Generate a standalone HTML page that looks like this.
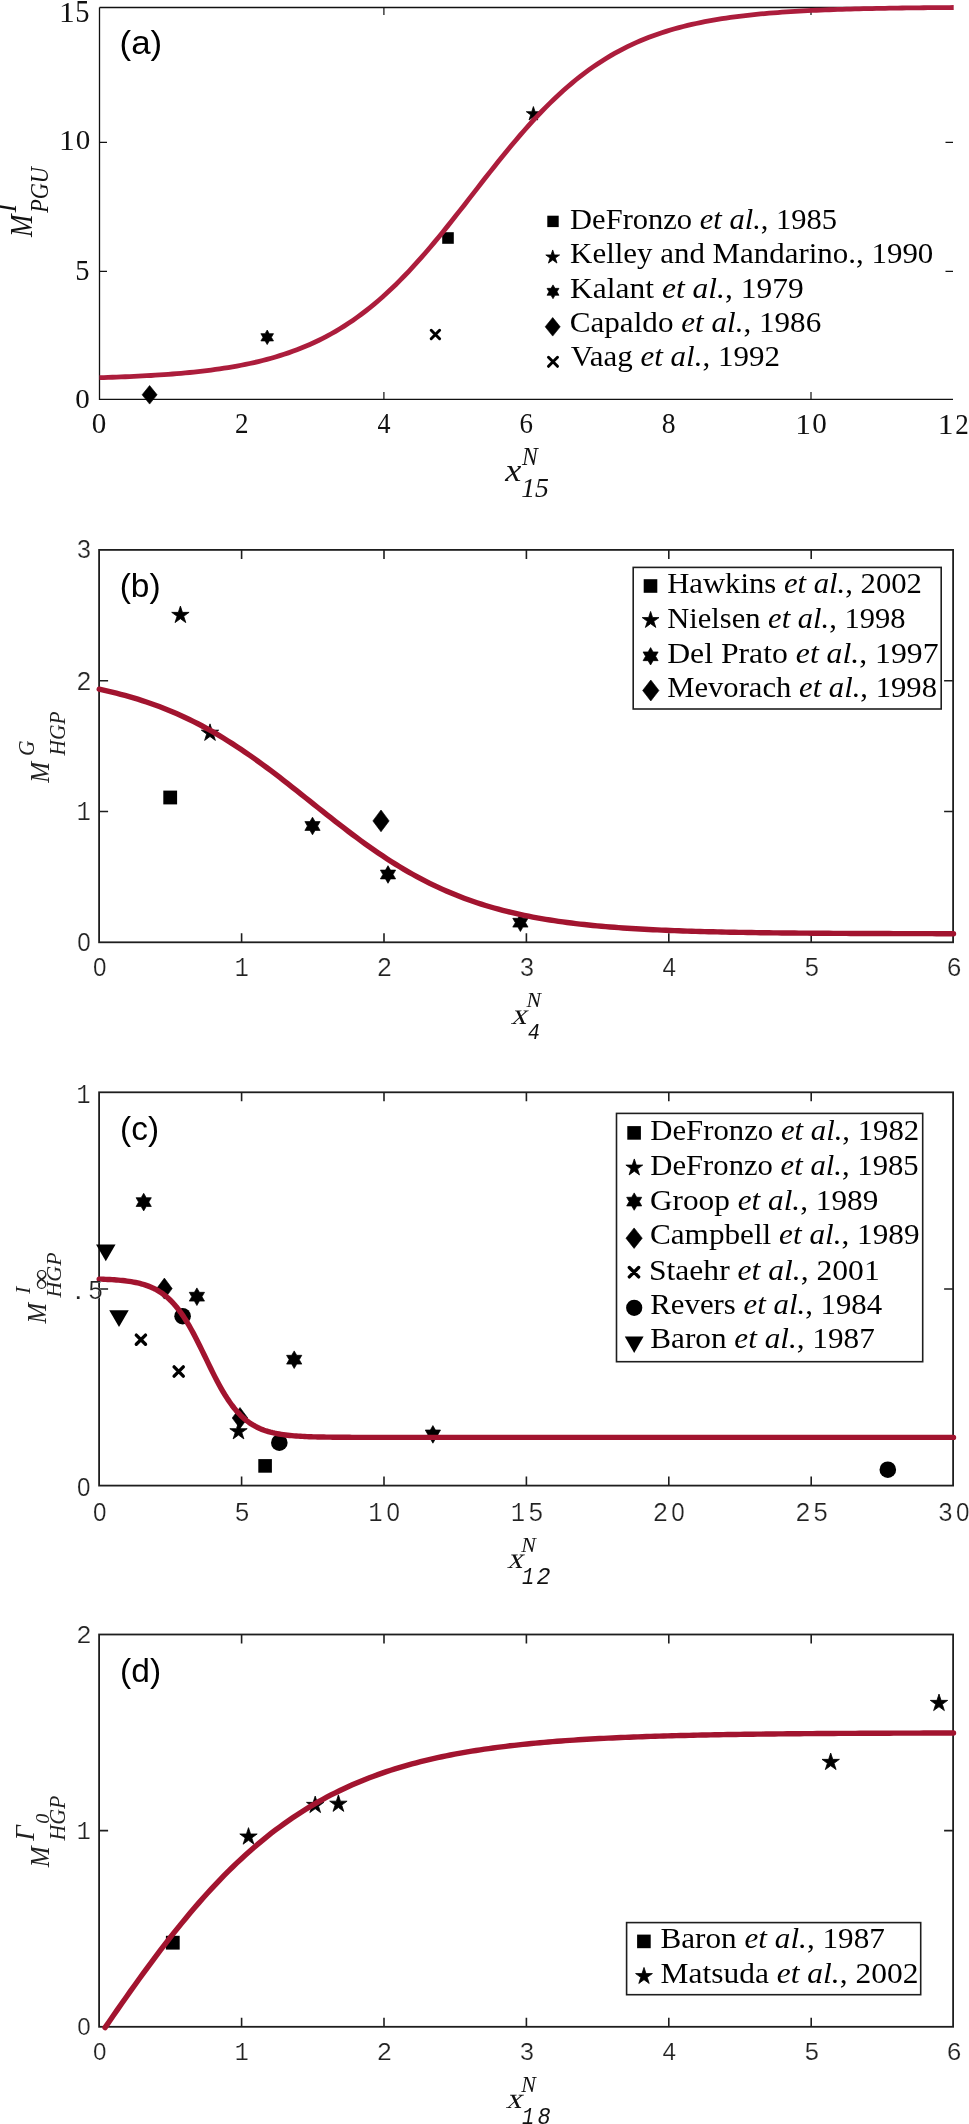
<!DOCTYPE html>
<html><head><meta charset="utf-8"><title>Figure</title>
<style>html,body{margin:0;padding:0;background:#fff;} svg{display:block;} text{white-space:pre;} .t{opacity:0.999;}</style>
</head><body>
<svg width="969" height="2124" viewBox="0 0 969 2124" font-family="'Liberation Serif', serif">
<rect width="969" height="2124" fill="#fff"/>
<path d="M99.5,7.5 H953 M99.5,7.5 V399.4 H953" stroke="#111" stroke-width="1.3" fill="none"/>
<path d="M383.9,399.4 v-7.5 M383.9,7.5 v7.5" stroke="#111" stroke-width="1.2"/>
<path d="M811.0,399.4 v-7.5 M811.0,7.5 v7.5" stroke="#111" stroke-width="1.2"/>
<path d="M99.5,142.4 h7.5 M953,142.4 h-7.5" stroke="#111" stroke-width="1.2"/>
<path d="M99.5,271.4 h7.5 M953,271.4 h-7.5" stroke="#111" stroke-width="1.2"/>
<path d="M149.60,385.50 L157.10,394.80 L149.60,404.10 L142.10,394.80Z" fill="#000" stroke="#000" stroke-width="0.6" stroke-linejoin="round"/>
<path d="M267.20,330.00 L269.31,333.65 L273.52,333.65 L271.41,337.30 L273.52,340.95 L269.31,340.95 L267.20,344.60 L265.09,340.95 L260.88,340.95 L262.99,337.30 L260.88,333.65 L265.09,333.65Z" fill="#000" stroke="#000" stroke-width="0.7" stroke-linejoin="round"/>
<path d="M442.20,232.20 H453.80 V243.80 H442.20Z" fill="#000"/>
<path d="M431.20,330.30 L439.60,338.70 M439.60,330.30 L431.20,338.70" stroke="#000" stroke-width="3.0" stroke-linecap="round" fill="none"/>
<path d="M533.40,106.55 L535.07,111.70 L540.49,111.70 L536.11,114.88 L537.78,120.03 L533.40,116.85 L529.02,120.03 L530.69,114.88 L526.31,111.70 L531.73,111.70Z" fill="#000" stroke="#000" stroke-width="0.8" stroke-linejoin="round"/>
<path d="M99.50,377.66 L103.79,377.53 L108.08,377.39 L112.38,377.25 L116.67,377.09 L120.96,376.93 L125.25,376.76 L129.55,376.57 L133.84,376.38 L138.13,376.17 L142.42,375.95 L146.72,375.72 L151.01,375.48 L155.30,375.22 L159.59,374.94 L163.89,374.65 L168.18,374.34 L172.47,374.01 L176.76,373.67 L181.06,373.30 L185.35,372.91 L189.64,372.50 L193.93,372.06 L198.23,371.60 L202.52,371.12 L206.81,370.60 L211.10,370.05 L215.40,369.47 L219.69,368.86 L223.98,368.22 L228.27,367.53 L232.57,366.81 L236.86,366.05 L241.15,365.24 L245.44,364.39 L249.74,363.50 L254.03,362.55 L258.32,361.55 L262.61,360.49 L266.91,359.38 L271.20,358.20 L275.49,356.97 L279.78,355.66 L284.08,354.29 L288.37,352.85 L292.66,351.33 L296.95,349.73 L301.25,348.05 L305.54,346.29 L309.83,344.44 L314.12,342.50 L318.42,340.46 L322.71,338.33 L327.00,336.10 L331.29,333.76 L335.59,331.32 L339.88,328.76 L344.17,326.10 L348.46,323.32 L352.76,320.42 L357.05,317.40 L361.34,314.27 L365.63,311.00 L369.93,307.62 L374.22,304.11 L378.51,300.47 L382.80,296.71 L387.09,292.82 L391.39,288.81 L395.68,284.68 L399.97,280.42 L404.26,276.04 L408.56,271.55 L412.85,266.94 L417.14,262.23 L421.43,257.41 L425.73,252.49 L430.02,247.48 L434.31,242.38 L438.60,237.20 L442.90,231.95 L447.19,226.63 L451.48,221.26 L455.77,215.84 L460.07,210.38 L464.36,204.90 L468.65,199.39 L472.94,193.87 L477.24,188.35 L481.53,182.84 L485.82,177.35 L490.11,171.88 L494.41,166.46 L498.70,161.07 L502.99,155.75 L507.28,150.49 L511.58,145.30 L515.87,140.18 L520.16,135.16 L524.45,130.22 L528.75,125.39 L533.04,120.65 L537.33,116.03 L541.62,111.52 L545.92,107.12 L550.21,102.84 L554.50,98.68 L558.79,94.65 L563.09,90.74 L567.38,86.96 L571.67,83.30 L575.96,79.77 L580.26,76.36 L584.55,73.08 L588.84,69.92 L593.13,66.89 L597.43,63.97 L601.72,61.17 L606.01,58.48 L610.30,55.91 L614.60,53.45 L618.89,51.10 L623.18,48.84 L627.47,46.69 L631.77,44.64 L636.06,42.69 L640.35,40.82 L644.64,39.04 L648.94,37.35 L653.23,35.74 L657.52,34.21 L661.81,32.75 L666.11,31.37 L670.40,30.05 L674.69,28.81 L678.98,27.62 L683.27,26.50 L687.57,25.43 L691.86,24.42 L696.15,23.47 L700.44,22.56 L704.74,21.70 L709.03,20.89 L713.32,20.12 L717.61,19.39 L721.91,18.70 L726.20,18.05 L730.49,17.43 L734.78,16.85 L739.08,16.30 L743.37,15.78 L747.66,15.28 L751.95,14.82 L756.25,14.38 L760.54,13.96 L764.83,13.57 L769.12,13.20 L773.42,12.85 L777.71,12.52 L782.00,12.21 L786.29,11.91 L790.59,11.63 L794.88,11.37 L799.17,11.12 L803.46,10.89 L807.76,10.67 L812.05,10.46 L816.34,10.26 L820.63,10.08 L824.93,9.90 L829.22,9.74 L833.51,9.58 L837.80,9.44 L842.10,9.30 L846.39,9.17 L850.68,9.05 L854.97,8.93 L859.27,8.82 L863.56,8.72 L867.85,8.62 L872.14,8.53 L876.44,8.44 L880.73,8.36 L885.02,8.28 L889.31,8.21 L893.61,8.14 L897.90,8.08 L902.19,8.02 L906.48,7.96 L910.78,7.90 L915.07,7.85 L919.36,7.81 L923.65,7.76 L927.95,7.72 L932.24,7.68 L936.53,7.64 L940.82,7.60 L945.12,7.57 L949.41,7.54 L953.70,7.51" stroke="#AC1D3C" stroke-width="4.8" fill="none" stroke-linejoin="round"/>
<rect x="99.1" y="549.9" width="854.0" height="392.4" stroke="#1e1e1e" stroke-width="1.8" fill="none"/>
<path d="M241.60,942.3 v-9.0 M241.60,549.9 v9.0 M384.00,942.3 v-9.0 M384.00,549.9 v9.0 M526.40,942.3 v-9.0 M526.40,549.9 v9.0 M668.80,942.3 v-9.0 M668.80,549.9 v9.0 M811.20,942.3 v-9.0 M811.20,549.9 v9.0 M99.1,811.50 h9.0 M953.1,811.50 h-9.0 M99.1,680.70 h9.0 M953.1,680.70 h-9.0 " stroke="#1e1e1e" stroke-width="1.6" fill="none"/>
<rect x="99.1" y="1092.3" width="854.0" height="393.29999999999995" stroke="#1e1e1e" stroke-width="1.8" fill="none"/>
<path d="M241.60,1485.6 v-9.0 M241.60,1092.3 v9.0 M384.00,1485.6 v-9.0 M384.00,1092.3 v9.0 M526.40,1485.6 v-9.0 M526.40,1092.3 v9.0 M668.80,1485.6 v-9.0 M668.80,1092.3 v9.0 M811.20,1485.6 v-9.0 M811.20,1092.3 v9.0 M99.1,1288.95 h9.0 M953.1,1288.95 h-9.0 " stroke="#1e1e1e" stroke-width="1.6" fill="none"/>
<rect x="99.1" y="1634.5" width="854.0" height="392.29999999999995" stroke="#1e1e1e" stroke-width="1.8" fill="none"/>
<path d="M241.60,2026.8 v-9.0 M241.60,1634.5 v9.0 M384.00,2026.8 v-9.0 M384.00,1634.5 v9.0 M526.40,2026.8 v-9.0 M526.40,1634.5 v9.0 M668.80,2026.8 v-9.0 M668.80,1634.5 v9.0 M811.20,2026.8 v-9.0 M811.20,1634.5 v9.0 M99.1,1830.60 h9.0 M953.1,1830.60 h-9.0 " stroke="#1e1e1e" stroke-width="1.6" fill="none"/>
<rect x="633.2" y="567.4" width="308" height="141.6" fill="#fff" stroke="#1e1e1e" stroke-width="1.6"/>
<rect x="616.5" y="1113.4" width="306.2" height="248.3" fill="#fff" stroke="#1e1e1e" stroke-width="1.6"/>
<rect x="626.6" y="1922.6" width="294.1" height="72.1" fill="#fff" stroke="#1e1e1e" stroke-width="1.6"/>
<path d="M163.30,790.60 H177.10 V804.40 H163.30Z" fill="#000"/>
<path d="M180.40,606.05 L182.45,612.37 L189.10,612.37 L183.72,616.28 L185.78,622.60 L180.40,618.69 L175.02,622.60 L177.08,616.28 L171.70,612.37 L178.35,612.37Z" fill="#000" stroke="#000" stroke-width="0.8" stroke-linejoin="round"/>
<path d="M210.00,723.85 L212.05,730.17 L218.70,730.17 L213.32,734.08 L215.38,740.40 L210.00,736.49 L204.62,740.40 L206.68,734.08 L201.30,730.17 L207.95,730.17Z" fill="#000" stroke="#000" stroke-width="0.8" stroke-linejoin="round"/>
<path d="M312.50,817.20 L315.04,821.60 L320.12,821.60 L317.58,826.00 L320.12,830.40 L315.04,830.40 L312.50,834.80 L309.96,830.40 L304.88,830.40 L307.42,826.00 L304.88,821.60 L309.96,821.60Z" fill="#000" stroke="#000" stroke-width="0.7" stroke-linejoin="round"/>
<path d="M381.00,810.00 L389.15,820.90 L381.00,831.80 L372.85,820.90Z" fill="#000" stroke="#000" stroke-width="0.6" stroke-linejoin="round"/>
<path d="M388.00,865.70 L390.54,870.10 L395.62,870.10 L393.08,874.50 L395.62,878.90 L390.54,878.90 L388.00,883.30 L385.46,878.90 L380.38,878.90 L382.92,874.50 L380.38,870.10 L385.46,870.10Z" fill="#000" stroke="#000" stroke-width="0.7" stroke-linejoin="round"/>
<path d="M520.40,913.90 L522.94,918.30 L528.02,918.30 L525.48,922.70 L528.02,927.10 L522.94,927.10 L520.40,931.50 L517.86,927.10 L512.78,927.10 L515.32,922.70 L512.78,918.30 L517.86,918.30Z" fill="#000" stroke="#000" stroke-width="0.7" stroke-linejoin="round"/>
<path d="M96.05,1244.60 H115.55 L105.80,1261.20Z" fill="#000"/>
<path d="M109.25,1310.30 H128.75 L119.00,1326.90Z" fill="#000"/>
<path d="M136.30,1335.10 L145.50,1344.30 M145.50,1335.10 L136.30,1344.30" stroke="#000" stroke-width="3.4" stroke-linecap="round" fill="none"/>
<path d="M174.10,1366.90 L183.30,1376.10 M183.30,1366.90 L174.10,1376.10" stroke="#000" stroke-width="3.4" stroke-linecap="round" fill="none"/>
<path d="M143.70,1193.30 L146.24,1197.70 L151.32,1197.70 L148.78,1202.10 L151.32,1206.50 L146.24,1206.50 L143.70,1210.90 L141.16,1206.50 L136.08,1206.50 L138.62,1202.10 L136.08,1197.70 L141.16,1197.70Z" fill="#000" stroke="#000" stroke-width="0.7" stroke-linejoin="round"/>
<path d="M164.40,1278.10 L172.20,1288.60 L164.40,1299.10 L156.60,1288.60Z" fill="#000" stroke="#000" stroke-width="0.6" stroke-linejoin="round"/>
<path d="M196.90,1287.90 L199.44,1292.30 L204.52,1292.30 L201.98,1296.70 L204.52,1301.10 L199.44,1301.10 L196.90,1305.50 L194.36,1301.10 L189.28,1301.10 L191.82,1296.70 L189.28,1292.30 L194.36,1292.30Z" fill="#000" stroke="#000" stroke-width="0.7" stroke-linejoin="round"/>
<circle cx="182.6" cy="1316.2" r="8.3" fill="#000"/>
<path d="M240.00,1407.50 L247.80,1418.00 L240.00,1428.50 L232.20,1418.00Z" fill="#000" stroke="#000" stroke-width="0.6" stroke-linejoin="round"/>
<path d="M238.50,1422.35 L240.55,1428.67 L247.20,1428.67 L241.82,1432.58 L243.88,1438.90 L238.50,1434.99 L233.12,1438.90 L235.18,1432.58 L229.80,1428.67 L236.45,1428.67Z" fill="#000" stroke="#000" stroke-width="0.8" stroke-linejoin="round"/>
<circle cx="279.3" cy="1442.7" r="8.3" fill="#000"/>
<path d="M258.30,1459.10 H271.90 V1472.70 H258.30Z" fill="#000"/>
<path d="M294.20,1350.90 L296.74,1355.30 L301.82,1355.30 L299.28,1359.70 L301.82,1364.10 L296.74,1364.10 L294.20,1368.50 L291.66,1364.10 L286.58,1364.10 L289.12,1359.70 L286.58,1355.30 L291.66,1355.30Z" fill="#000" stroke="#000" stroke-width="0.7" stroke-linejoin="round"/>
<path d="M432.90,1425.60 L435.44,1430.00 L440.52,1430.00 L437.98,1434.40 L440.52,1438.80 L435.44,1438.80 L432.90,1443.20 L430.36,1438.80 L425.28,1438.80 L427.82,1434.40 L425.28,1430.00 L430.36,1430.00Z" fill="#000" stroke="#000" stroke-width="0.7" stroke-linejoin="round"/>
<circle cx="887.8" cy="1469.7" r="8.3" fill="#000"/>
<path d="M165.90,1935.80 H179.70 V1949.60 H165.90Z" fill="#000"/>
<path d="M248.50,1827.65 L250.55,1833.97 L257.20,1833.97 L251.82,1837.88 L253.88,1844.20 L248.50,1840.29 L243.12,1844.20 L245.18,1837.88 L239.80,1833.97 L246.45,1833.97Z" fill="#000" stroke="#000" stroke-width="0.8" stroke-linejoin="round"/>
<path d="M315.20,1796.05 L317.25,1802.37 L323.90,1802.37 L318.52,1806.28 L320.58,1812.60 L315.20,1808.69 L309.82,1812.60 L311.88,1806.28 L306.50,1802.37 L313.15,1802.37Z" fill="#000" stroke="#000" stroke-width="0.8" stroke-linejoin="round"/>
<path d="M338.40,1794.85 L340.45,1801.17 L347.10,1801.17 L341.72,1805.08 L343.78,1811.40 L338.40,1807.49 L333.02,1811.40 L335.08,1805.08 L329.70,1801.17 L336.35,1801.17Z" fill="#000" stroke="#000" stroke-width="0.8" stroke-linejoin="round"/>
<path d="M830.70,1753.05 L832.75,1759.37 L839.40,1759.37 L834.02,1763.28 L836.08,1769.60 L830.70,1765.69 L825.32,1769.60 L827.38,1763.28 L822.00,1759.37 L828.65,1759.37Z" fill="#000" stroke="#000" stroke-width="0.8" stroke-linejoin="round"/>
<path d="M939.00,1694.05 L941.05,1700.37 L947.70,1700.37 L942.32,1704.28 L944.38,1710.60 L939.00,1706.69 L933.62,1710.60 L935.68,1704.28 L930.30,1700.37 L936.95,1700.37Z" fill="#000" stroke="#000" stroke-width="0.8" stroke-linejoin="round"/>
<path d="M99.20,689.23 L103.49,690.15 L107.79,691.12 L112.08,692.13 L116.37,693.19 L120.66,694.29 L124.96,695.44 L129.25,696.64 L133.54,697.90 L137.84,699.20 L142.13,700.56 L146.42,701.98 L150.72,703.45 L155.01,704.98 L159.30,706.57 L163.59,708.22 L167.89,709.93 L172.18,711.71 L176.47,713.55 L180.77,715.46 L185.06,717.43 L189.35,719.48 L193.65,721.59 L197.94,723.76 L202.23,726.01 L206.52,728.32 L210.82,730.71 L215.11,733.16 L219.40,735.68 L223.70,738.26 L227.99,740.92 L232.28,743.63 L236.57,746.41 L240.87,749.26 L245.16,752.16 L249.45,755.12 L253.75,758.14 L258.04,761.20 L262.33,764.32 L266.63,767.49 L270.92,770.70 L275.21,773.95 L279.50,777.23 L283.80,780.55 L288.09,783.90 L292.38,787.27 L296.68,790.66 L300.97,794.07 L305.26,797.49 L309.56,800.91 L313.85,804.34 L318.14,807.76 L322.43,811.17 L326.73,814.58 L331.02,817.96 L335.31,821.33 L339.61,824.67 L343.90,827.98 L348.19,831.25 L352.48,834.49 L356.78,837.69 L361.07,840.84 L365.36,843.95 L369.66,847.00 L373.95,850.00 L378.24,852.95 L382.54,855.84 L386.83,858.66 L391.12,861.42 L395.41,864.12 L399.71,866.76 L404.00,869.32 L408.29,871.82 L412.59,874.26 L416.88,876.62 L421.17,878.92 L425.47,881.14 L429.76,883.30 L434.05,885.39 L438.34,887.41 L442.64,889.37 L446.93,891.26 L451.22,893.08 L455.52,894.84 L459.81,896.54 L464.10,898.17 L468.39,899.75 L472.69,901.26 L476.98,902.72 L481.27,904.12 L485.57,905.46 L489.86,906.75 L494.15,907.99 L498.45,909.17 L502.74,910.31 L507.03,911.40 L511.32,912.45 L515.62,913.45 L519.91,914.40 L524.20,915.32 L528.50,916.19 L532.79,917.03 L537.08,917.83 L541.38,918.59 L545.67,919.32 L549.96,920.02 L554.25,920.68 L558.55,921.32 L562.84,921.92 L567.13,922.50 L571.43,923.05 L575.72,923.57 L580.01,924.07 L584.31,924.55 L588.60,925.00 L592.89,925.44 L597.18,925.85 L601.48,926.24 L605.77,926.61 L610.06,926.97 L614.36,927.31 L618.65,927.63 L622.94,927.94 L627.23,928.23 L631.53,928.51 L635.82,928.77 L640.11,929.02 L644.41,929.26 L648.70,929.49 L652.99,929.70 L657.29,929.91 L661.58,930.10 L665.87,930.29 L670.16,930.47 L674.46,930.63 L678.75,930.79 L683.04,930.94 L687.34,931.09 L691.63,931.22 L695.92,931.35 L700.22,931.48 L704.51,931.60 L708.80,931.71 L713.09,931.81 L717.39,931.91 L721.68,932.01 L725.97,932.10 L730.27,932.19 L734.56,932.27 L738.85,932.35 L743.14,932.42 L747.44,932.49 L751.73,932.56 L756.02,932.62 L760.32,932.68 L764.61,932.74 L768.90,932.79 L773.20,932.84 L777.49,932.89 L781.78,932.94 L786.07,932.98 L790.37,933.03 L794.66,933.07 L798.95,933.10 L803.25,933.14 L807.54,933.17 L811.83,933.21 L816.13,933.24 L820.42,933.27 L824.71,933.29 L829.00,933.32 L833.30,933.34 L837.59,933.37 L841.88,933.39 L846.18,933.41 L850.47,933.43 L854.76,933.45 L859.05,933.47 L863.35,933.49 L867.64,933.50 L871.93,933.52 L876.23,933.53 L880.52,933.55 L884.81,933.56 L889.11,933.57 L893.40,933.59 L897.69,933.60 L901.98,933.61 L906.28,933.62 L910.57,933.63 L914.86,933.64 L919.16,933.65 L923.45,933.66 L927.74,933.66 L932.04,933.67 L936.33,933.68 L940.62,933.69 L944.91,933.69 L949.21,933.70 L953.50,933.70" stroke="#A2142F" stroke-width="5.4" fill="none" stroke-linecap="round" stroke-linejoin="round"/>
<path d="M99.20,1279.09 L101.34,1279.16 L103.48,1279.24 L105.62,1279.33 L107.76,1279.43 L109.91,1279.54 L112.05,1279.67 L114.19,1279.81 L116.33,1279.97 L118.47,1280.14 L120.61,1280.34 L122.75,1280.55 L124.89,1280.79 L127.03,1281.06 L129.18,1281.36 L131.32,1281.70 L133.46,1282.07 L135.60,1282.49 L137.74,1282.95 L139.88,1283.46 L142.02,1284.03 L144.16,1284.66 L146.30,1285.36 L148.45,1286.13 L150.59,1286.99 L152.73,1287.93 L154.87,1288.98 L157.01,1290.13 L159.15,1291.39 L161.29,1292.78 L163.43,1294.30 L165.57,1295.97 L167.72,1297.78 L169.86,1299.76 L172.00,1301.90 L174.14,1304.22 L176.28,1306.72 L178.42,1309.41 L180.56,1312.29 L182.70,1315.35 L184.84,1318.61 L186.99,1322.05 L189.13,1325.67 L191.27,1329.46 L193.41,1333.40 L195.55,1337.48 L197.69,1341.68 L199.83,1345.98 L201.97,1350.34 L204.11,1354.76 L206.26,1359.19 L208.40,1363.62 L210.54,1368.01 L212.68,1372.34 L214.82,1376.59 L216.96,1380.72 L219.10,1384.73 L221.24,1388.58 L223.38,1392.28 L225.53,1395.80 L227.67,1399.13 L229.81,1402.28 L231.95,1405.24 L234.09,1408.01 L236.23,1410.60 L238.37,1412.99 L240.51,1415.21 L242.65,1417.26 L244.79,1419.14 L246.94,1420.87 L249.08,1422.45 L251.22,1423.90 L253.36,1425.22 L255.50,1426.42 L257.64,1427.50 L259.78,1428.49 L261.92,1429.39 L264.06,1430.19 L266.21,1430.93 L268.35,1431.58 L270.49,1432.18 L272.63,1432.72 L274.77,1433.20 L276.91,1433.63 L279.05,1434.02 L281.19,1434.37 L283.33,1434.69 L285.48,1434.97 L287.62,1435.22 L289.76,1435.45 L291.90,1435.65 L294.04,1435.84 L296.18,1436.00 L298.32,1436.15 L300.46,1436.28 L302.60,1436.40 L304.75,1436.50 L306.89,1436.60 L309.03,1436.68 L311.17,1436.76 L313.31,1436.83 L315.45,1436.89 L317.59,1436.94 L319.73,1436.99 L321.87,1437.03 L324.02,1437.07 L326.16,1437.11 L328.30,1437.14 L330.44,1437.17 L332.58,1437.19 L334.72,1437.21 L336.86,1437.23 L339.00,1437.25 L341.14,1437.27 L343.29,1437.28 L345.43,1437.30 L347.57,1437.31 L349.71,1437.32 L351.85,1437.33 L353.99,1437.33 L356.13,1437.34 L358.27,1437.35 L360.41,1437.35 L362.56,1437.36 L364.70,1437.36 L366.84,1437.37 L368.98,1437.37 L371.12,1437.38 L373.26,1437.38 L375.40,1437.38 L377.54,1437.38 L379.68,1437.39 L381.83,1437.39 L383.97,1437.39 L386.11,1437.39 L388.25,1437.39 L390.39,1437.39 L392.53,1437.39 L394.67,1437.40 L396.81,1437.40 L398.95,1437.40 L401.10,1437.40 L403.24,1437.40 L405.38,1437.40 L407.52,1437.40 L409.66,1437.40 L411.80,1437.40 L413.94,1437.40 L416.08,1437.40 L418.22,1437.40 L420.37,1437.40 L422.51,1437.40 L424.65,1437.40 L426.79,1437.40 L428.93,1437.40 L431.07,1437.40 L433.21,1437.40 L435.35,1437.40 L437.49,1437.40 L439.64,1437.40 L441.78,1437.40 L443.92,1437.40 L446.06,1437.40 L448.20,1437.40 L450.34,1437.40 L452.48,1437.40 L454.62,1437.40 L456.76,1437.40 L458.91,1437.40 L461.05,1437.40 L463.19,1437.40 L465.33,1437.40 L467.47,1437.40 L469.61,1437.40 L471.75,1437.40 L473.89,1437.40 L476.03,1437.40 L478.18,1437.40 L480.32,1437.40 L482.46,1437.40 L484.60,1437.40 L486.74,1437.40 L488.88,1437.40 L491.02,1437.40 L493.16,1437.40 L495.30,1437.40 L497.45,1437.40 L499.59,1437.40 L501.73,1437.40 L503.87,1437.40 L506.01,1437.40 L508.15,1437.40 L510.29,1437.40 L512.43,1437.40 L514.57,1437.40 L516.72,1437.40 L518.86,1437.40 L521.00,1437.40 L523.14,1437.40 L525.28,1437.40 L527.42,1437.40 L529.56,1437.40 L531.70,1437.40 L533.84,1437.40 L535.98,1437.40 L538.13,1437.40 L540.27,1437.40 L542.41,1437.40 L544.55,1437.40 L546.69,1437.40 L548.83,1437.40 L550.97,1437.40 L553.11,1437.40 L555.25,1437.40 L557.40,1437.40 L559.54,1437.40 L561.68,1437.40 L563.82,1437.40 L565.96,1437.40 L568.10,1437.40 L570.24,1437.40 L572.38,1437.40 L574.52,1437.40 L576.67,1437.40 L578.81,1437.40 L580.95,1437.40 L583.09,1437.40 L585.23,1437.40 L587.37,1437.40 L589.51,1437.40 L591.65,1437.40 L593.79,1437.40 L595.94,1437.40 L598.08,1437.40 L600.22,1437.40 L602.36,1437.40 L604.50,1437.40 L606.64,1437.40 L608.78,1437.40 L610.92,1437.40 L613.06,1437.40 L615.21,1437.40 L617.35,1437.40 L619.49,1437.40 L621.63,1437.40 L623.77,1437.40 L625.91,1437.40 L628.05,1437.40 L630.19,1437.40 L632.33,1437.40 L634.48,1437.40 L636.62,1437.40 L638.76,1437.40 L640.90,1437.40 L643.04,1437.40 L645.18,1437.40 L647.32,1437.40 L649.46,1437.40 L651.60,1437.40 L653.75,1437.40 L655.89,1437.40 L658.03,1437.40 L660.17,1437.40 L662.31,1437.40 L664.45,1437.40 L666.59,1437.40 L668.73,1437.40 L670.87,1437.40 L673.02,1437.40 L675.16,1437.40 L677.30,1437.40 L679.44,1437.40 L681.58,1437.40 L683.72,1437.40 L685.86,1437.40 L688.00,1437.40 L690.14,1437.40 L692.29,1437.40 L694.43,1437.40 L696.57,1437.40 L698.71,1437.40 L700.85,1437.40 L702.99,1437.40 L705.13,1437.40 L707.27,1437.40 L709.41,1437.40 L711.56,1437.40 L713.70,1437.40 L715.84,1437.40 L717.98,1437.40 L720.12,1437.40 L722.26,1437.40 L724.40,1437.40 L726.54,1437.40 L728.68,1437.40 L730.83,1437.40 L732.97,1437.40 L735.11,1437.40 L737.25,1437.40 L739.39,1437.40 L741.53,1437.40 L743.67,1437.40 L745.81,1437.40 L747.95,1437.40 L750.10,1437.40 L752.24,1437.40 L754.38,1437.40 L756.52,1437.40 L758.66,1437.40 L760.80,1437.40 L762.94,1437.40 L765.08,1437.40 L767.22,1437.40 L769.37,1437.40 L771.51,1437.40 L773.65,1437.40 L775.79,1437.40 L777.93,1437.40 L780.07,1437.40 L782.21,1437.40 L784.35,1437.40 L786.49,1437.40 L788.64,1437.40 L790.78,1437.40 L792.92,1437.40 L795.06,1437.40 L797.20,1437.40 L799.34,1437.40 L801.48,1437.40 L803.62,1437.40 L805.76,1437.40 L807.91,1437.40 L810.05,1437.40 L812.19,1437.40 L814.33,1437.40 L816.47,1437.40 L818.61,1437.40 L820.75,1437.40 L822.89,1437.40 L825.03,1437.40 L827.17,1437.40 L829.32,1437.40 L831.46,1437.40 L833.60,1437.40 L835.74,1437.40 L837.88,1437.40 L840.02,1437.40 L842.16,1437.40 L844.30,1437.40 L846.44,1437.40 L848.59,1437.40 L850.73,1437.40 L852.87,1437.40 L855.01,1437.40 L857.15,1437.40 L859.29,1437.40 L861.43,1437.40 L863.57,1437.40 L865.71,1437.40 L867.86,1437.40 L870.00,1437.40 L872.14,1437.40 L874.28,1437.40 L876.42,1437.40 L878.56,1437.40 L880.70,1437.40 L882.84,1437.40 L884.98,1437.40 L887.13,1437.40 L889.27,1437.40 L891.41,1437.40 L893.55,1437.40 L895.69,1437.40 L897.83,1437.40 L899.97,1437.40 L902.11,1437.40 L904.25,1437.40 L906.40,1437.40 L908.54,1437.40 L910.68,1437.40 L912.82,1437.40 L914.96,1437.40 L917.10,1437.40 L919.24,1437.40 L921.38,1437.40 L923.52,1437.40 L925.67,1437.40 L927.81,1437.40 L929.95,1437.40 L932.09,1437.40 L934.23,1437.40 L936.37,1437.40 L938.51,1437.40 L940.65,1437.40 L942.79,1437.40 L944.94,1437.40 L947.08,1437.40 L949.22,1437.40 L951.36,1437.40 L953.50,1437.40" stroke="#A2142F" stroke-width="5.4" fill="none" stroke-linecap="round" stroke-linejoin="round"/>
<path d="M105.02,2027.60 L109.28,2021.42 L113.54,2015.26 L117.81,2009.12 L122.07,2003.02 L126.34,1996.95 L130.60,1990.93 L134.86,1984.94 L139.13,1979.01 L143.39,1973.13 L147.65,1967.30 L151.92,1961.53 L156.18,1955.83 L160.45,1950.19 L164.71,1944.62 L168.97,1939.12 L173.24,1933.70 L177.50,1928.36 L181.76,1923.10 L186.03,1917.91 L190.29,1912.82 L194.56,1907.80 L198.82,1902.88 L203.08,1898.04 L207.35,1893.30 L211.61,1888.64 L215.87,1884.08 L220.14,1879.61 L224.40,1875.23 L228.67,1870.95 L232.93,1866.76 L237.19,1862.67 L241.46,1858.66 L245.72,1854.76 L249.98,1850.94 L254.25,1847.22 L258.51,1843.59 L262.78,1840.05 L267.04,1836.60 L271.30,1833.24 L275.57,1829.97 L279.83,1826.79 L284.09,1823.70 L288.36,1820.69 L292.62,1817.76 L296.89,1814.92 L301.15,1812.16 L305.41,1809.47 L309.68,1806.87 L313.94,1804.35 L318.20,1801.89 L322.47,1799.52 L326.73,1797.21 L330.99,1794.98 L335.26,1792.82 L339.52,1790.72 L343.79,1788.69 L348.05,1786.72 L352.31,1784.82 L356.58,1782.98 L360.84,1781.20 L365.10,1779.47 L369.37,1777.81 L373.63,1776.19 L377.90,1774.64 L382.16,1773.13 L386.42,1771.67 L390.69,1770.27 L394.95,1768.91 L399.21,1767.60 L403.48,1766.33 L407.74,1765.11 L412.01,1763.93 L416.27,1762.79 L420.53,1761.68 L424.80,1760.62 L429.06,1759.60 L433.32,1758.61 L437.59,1757.66 L441.85,1756.74 L446.12,1755.85 L450.38,1754.99 L454.64,1754.17 L458.91,1753.37 L463.17,1752.61 L467.43,1751.87 L471.70,1751.15 L475.96,1750.47 L480.23,1749.81 L484.49,1749.17 L488.75,1748.55 L493.02,1747.96 L497.28,1747.39 L501.54,1746.84 L505.81,1746.31 L510.07,1745.80 L514.34,1745.31 L518.60,1744.84 L522.86,1744.39 L527.13,1743.95 L531.39,1743.53 L535.65,1743.12 L539.92,1742.73 L544.18,1742.35 L548.45,1741.99 L552.71,1741.64 L556.97,1741.30 L561.24,1740.98 L565.50,1740.67 L569.76,1740.37 L574.03,1740.08 L578.29,1739.80 L582.56,1739.54 L586.82,1739.28 L591.08,1739.03 L595.35,1738.79 L599.61,1738.56 L603.87,1738.34 L608.14,1738.13 L612.40,1737.93 L616.67,1737.73 L620.93,1737.54 L625.19,1737.36 L629.46,1737.18 L633.72,1737.02 L637.98,1736.85 L642.25,1736.70 L646.51,1736.55 L650.77,1736.40 L655.04,1736.26 L659.30,1736.13 L663.57,1736.00 L667.83,1735.88 L672.09,1735.76 L676.36,1735.65 L680.62,1735.54 L684.88,1735.43 L689.15,1735.33 L693.41,1735.23 L697.68,1735.14 L701.94,1735.05 L706.20,1734.96 L710.47,1734.88 L714.73,1734.79 L718.99,1734.72 L723.26,1734.64 L727.52,1734.57 L731.79,1734.50 L736.05,1734.44 L740.31,1734.37 L744.58,1734.31 L748.84,1734.25 L753.10,1734.20 L757.37,1734.14 L761.63,1734.09 L765.90,1734.04 L770.16,1733.99 L774.42,1733.94 L778.69,1733.90 L782.95,1733.85 L787.21,1733.81 L791.48,1733.77 L795.74,1733.73 L800.01,1733.70 L804.27,1733.66 L808.53,1733.63 L812.80,1733.60 L817.06,1733.56 L821.32,1733.53 L825.59,1733.50 L829.85,1733.48 L834.12,1733.45 L838.38,1733.42 L842.64,1733.40 L846.91,1733.37 L851.17,1733.35 L855.43,1733.33 L859.70,1733.31 L863.96,1733.29 L868.23,1733.27 L872.49,1733.25 L876.75,1733.23 L881.02,1733.21 L885.28,1733.19 L889.54,1733.18 L893.81,1733.16 L898.07,1733.15 L902.34,1733.13 L906.60,1733.12 L910.86,1733.11 L915.13,1733.09 L919.39,1733.08 L923.65,1733.07 L927.92,1733.06 L932.18,1733.05 L936.45,1733.04 L940.71,1733.03 L944.97,1733.02 L949.24,1733.01 L953.50,1733.00" stroke="#A2142F" stroke-width="5.4" fill="none" stroke-linecap="round" stroke-linejoin="round"/>
<path d="M547.30,215.70 H558.70 V227.10 H547.30Z" fill="#000"/>
<path d="M552.70,249.95 L554.33,254.96 L559.60,254.96 L555.33,258.06 L556.96,263.07 L552.70,259.97 L548.44,263.07 L550.07,258.06 L545.80,254.96 L551.07,254.96Z" fill="#000" stroke="#000" stroke-width="0.8" stroke-linejoin="round"/>
<path d="M553.00,284.90 L554.99,288.35 L558.98,288.35 L556.98,291.80 L558.98,295.25 L554.99,295.25 L553.00,298.70 L551.01,295.25 L547.02,295.25 L549.02,291.80 L547.02,288.35 L551.01,288.35Z" fill="#000" stroke="#000" stroke-width="0.7" stroke-linejoin="round"/>
<path d="M552.70,317.50 L560.20,326.80 L552.70,336.10 L545.20,326.80Z" fill="#000" stroke="#000" stroke-width="0.6" stroke-linejoin="round"/>
<path d="M548.50,357.30 L557.50,366.30 M557.50,357.30 L548.50,366.30" stroke="#000" stroke-width="3.0" stroke-linecap="round" fill="none"/>
<path d="M643.70,579.20 H657.30 V592.80 H643.70Z" fill="#000"/>
<path d="M650.60,611.45 L652.59,617.57 L659.02,617.57 L653.81,621.34 L655.80,627.46 L650.60,623.68 L645.40,627.46 L647.39,621.34 L642.18,617.57 L648.61,617.57Z" fill="#000" stroke="#000" stroke-width="0.8" stroke-linejoin="round"/>
<path d="M650.60,647.60 L653.11,651.95 L658.13,651.95 L655.62,656.30 L658.13,660.65 L653.11,660.65 L650.60,665.00 L648.09,660.65 L643.07,660.65 L645.58,656.30 L643.07,651.95 L648.09,651.95Z" fill="#000" stroke="#000" stroke-width="0.7" stroke-linejoin="round"/>
<path d="M650.80,680.00 L658.95,690.50 L650.80,701.00 L642.65,690.50Z" fill="#000" stroke="#000" stroke-width="0.6" stroke-linejoin="round"/>
<path d="M627.30,1126.10 H640.90 V1139.70 H627.30Z" fill="#000"/>
<path d="M634.30,1158.95 L636.29,1165.07 L642.72,1165.07 L637.51,1168.84 L639.50,1174.96 L634.30,1171.18 L629.10,1174.96 L631.09,1168.84 L625.88,1165.07 L632.31,1165.07Z" fill="#000" stroke="#000" stroke-width="0.8" stroke-linejoin="round"/>
<path d="M634.20,1192.90 L636.71,1197.25 L641.73,1197.25 L639.22,1201.60 L641.73,1205.95 L636.71,1205.95 L634.20,1210.30 L631.69,1205.95 L626.67,1205.95 L629.18,1201.60 L626.67,1197.25 L631.69,1197.25Z" fill="#000" stroke="#000" stroke-width="0.7" stroke-linejoin="round"/>
<path d="M634.10,1227.95 L642.25,1238.20 L634.10,1248.45 L625.95,1238.20Z" fill="#000" stroke="#000" stroke-width="0.6" stroke-linejoin="round"/>
<path d="M629.35,1267.55 L638.65,1276.85 M638.65,1267.55 L629.35,1276.85" stroke="#000" stroke-width="3.4" stroke-linecap="round" fill="none"/>
<circle cx="634.2" cy="1307.8" r="8.1" fill="#000"/>
<path d="M624.80,1336.40 H643.60 L634.20,1353.00Z" fill="#000"/>
<path d="M637.10,1934.60 H650.70 V1948.20 H637.10Z" fill="#000"/>
<path d="M644.00,1967.45 L645.99,1973.57 L652.42,1973.57 L647.21,1977.34 L649.20,1983.46 L644.00,1979.68 L638.80,1983.46 L640.79,1977.34 L635.58,1973.57 L642.01,1973.57Z" fill="#000" stroke="#000" stroke-width="0.8" stroke-linejoin="round"/>
<g opacity="0.999">
<text transform="matrix(0.34909 0 0 0.33830 119.51 54.40)" font-family="Liberation Sans" font-style="normal" font-weight="normal" font-size="100" fill="#000" >(a)</text>
<text transform="matrix(0.33545 0 0 0.34043 119.69 597.45)" font-family="Liberation Sans" font-style="normal" font-weight="normal" font-size="100" fill="#000" >(b)</text>
<text transform="matrix(0.33365 0 0 0.33723 120.10 1139.72)" font-family="Liberation Sans" font-style="normal" font-weight="normal" font-size="100" fill="#000" >(c)</text>
<text transform="matrix(0.33545 0 0 0.33830 120.09 1682.00)" font-family="Liberation Sans" font-style="normal" font-weight="normal" font-size="100" fill="#000" >(d)</text>
<text transform="matrix(0.29048 0 0 0.27647 75.24 408.05)" font-family="Liberation Serif" font-style="normal" font-weight="normal" font-size="100" fill="#111" >0</text>
<text transform="matrix(0.28500 0 0 0.29697 75.19 279.50)" font-family="Liberation Serif" font-style="normal" font-weight="normal" font-size="100" fill="#111" >5</text>
<text transform="matrix(0.31429 0 0 0.28636 59.07 149.90)" font-family="Liberation Serif" font-style="normal" font-weight="normal" font-size="100" fill="#111" >1</text>
<text transform="matrix(0.29048 0 0 0.27794 75.64 149.34)" font-family="Liberation Serif" font-style="normal" font-weight="normal" font-size="100" fill="#111" >0</text>
<text transform="matrix(0.31429 0 0 0.29545 59.07 21.90)" font-family="Liberation Serif" font-style="normal" font-weight="normal" font-size="100" fill="#111" >1</text>
<text transform="matrix(0.28500 0 0 0.30758 75.19 21.59)" font-family="Liberation Serif" font-style="normal" font-weight="normal" font-size="100" fill="#111" >5</text>
<text transform="matrix(0.29048 0 0 0.28676 91.74 433.13)" font-family="Liberation Serif" font-style="normal" font-weight="normal" font-size="100" fill="#111" >0</text>
<text transform="matrix(0.27073 0 0 0.29104 235.02 433.41)" font-family="Liberation Serif" font-style="normal" font-weight="normal" font-size="100" fill="#111" >2</text>
<text transform="matrix(0.26087 0 0 0.29545 377.48 433.40)" font-family="Liberation Serif" font-style="normal" font-weight="normal" font-size="100" fill="#111" >4</text>
<text transform="matrix(0.26977 0 0 0.28676 519.42 433.13)" font-family="Liberation Serif" font-style="normal" font-weight="normal" font-size="100" fill="#111" >6</text>
<text transform="matrix(0.27619 0 0 0.28676 661.70 433.13)" font-family="Liberation Serif" font-style="normal" font-weight="normal" font-size="100" fill="#111" >8</text>
<text transform="matrix(0.31429 0 0 0.29697 795.17 433.80)" font-family="Liberation Serif" font-style="normal" font-weight="normal" font-size="100" fill="#111" >1</text>
<text transform="matrix(0.29048 0 0 0.28824 812.24 433.22)" font-family="Liberation Serif" font-style="normal" font-weight="normal" font-size="100" fill="#111" >0</text>
<text transform="matrix(0.31429 0 0 0.29848 937.67 434.00)" font-family="Liberation Serif" font-style="normal" font-weight="normal" font-size="100" fill="#111" >1</text>
<text transform="matrix(0.27073 0 0 0.29403 955.37 433.71)" font-family="Liberation Serif" font-style="normal" font-weight="normal" font-size="100" fill="#111" >2</text>
<text transform="matrix(0.24167 0 0 0.25070 77.23 950.65)" font-family="Liberation Sans" font-style="normal" font-weight="normal" font-size="100" fill="#222222" stroke="#fff" stroke-width="0.9">0</text>
<text transform="matrix(0.23333 0 0 0.26970 76.77 820.30)" font-family="Liberation Mono" font-style="normal" font-weight="normal" font-size="100" fill="#222222" stroke="#fff" stroke-width="0.9">1</text>
<text transform="matrix(0.25870 0 0 0.25429 76.76 689.80)" font-family="Liberation Sans" font-style="normal" font-weight="normal" font-size="100" fill="#222222" stroke="#fff" stroke-width="0.9">2</text>
<text transform="matrix(0.25106 0 0 0.25070 77.10 558.45)" font-family="Liberation Sans" font-style="normal" font-weight="normal" font-size="100" fill="#222222" stroke="#fff" stroke-width="0.9">3</text>
<text transform="matrix(0.24167 0 0 0.25070 92.93 975.75)" font-family="Liberation Sans" font-style="normal" font-weight="normal" font-size="100" fill="#222222" stroke="#fff" stroke-width="0.9">0</text>
<text transform="matrix(0.23333 0 0 0.26970 234.87 976.00)" font-family="Liberation Mono" font-style="normal" font-weight="normal" font-size="100" fill="#222222" stroke="#fff" stroke-width="0.9">1</text>
<text transform="matrix(0.25870 0 0 0.25429 377.26 976.00)" font-family="Liberation Sans" font-style="normal" font-weight="normal" font-size="100" fill="#222222" stroke="#fff" stroke-width="0.9">2</text>
<text transform="matrix(0.25106 0 0 0.25070 520.00 975.75)" font-family="Liberation Sans" font-style="normal" font-weight="normal" font-size="100" fill="#222222" stroke="#fff" stroke-width="0.9">3</text>
<text transform="matrix(0.24314 0 0 0.25429 662.61 976.00)" font-family="Liberation Sans" font-style="normal" font-weight="normal" font-size="100" fill="#222222" stroke="#fff" stroke-width="0.9">4</text>
<text transform="matrix(0.25532 0 0 0.25429 804.68 975.75)" font-family="Liberation Sans" font-style="normal" font-weight="normal" font-size="100" fill="#222222" stroke="#fff" stroke-width="0.9">5</text>
<text transform="matrix(0.25652 0 0 0.25070 946.92 975.75)" font-family="Liberation Sans" font-style="normal" font-weight="normal" font-size="100" fill="#222222" stroke="#fff" stroke-width="0.9">6</text>
<text transform="matrix(0.24167 0 0 0.24930 76.93 1496.35)" font-family="Liberation Sans" font-style="normal" font-weight="normal" font-size="100" fill="#222222" stroke="#fff" stroke-width="0.9">0</text>
<text transform="matrix(0.23333 0 0 0.26818 76.57 1103.00)" font-family="Liberation Mono" font-style="normal" font-weight="normal" font-size="100" fill="#222222" stroke="#fff" stroke-width="0.9">1</text>
<text transform="matrix(0.23333 0 0 0.18667 71.30 1299.40)" font-family="Liberation Mono" font-style="normal" font-weight="normal" font-size="100" fill="#222222" >.</text>
<text transform="matrix(0.25532 0 0 0.25143 88.58 1299.15)" font-family="Liberation Sans" font-style="normal" font-weight="normal" font-size="100" fill="#222222" stroke="#fff" stroke-width="0.9">5</text>
<text transform="matrix(0.24167 0 0 0.25070 92.93 1520.65)" font-family="Liberation Sans" font-style="normal" font-weight="normal" font-size="100" fill="#222222" stroke="#fff" stroke-width="0.9">0</text>
<text transform="matrix(0.25532 0 0 0.25429 235.08 1520.65)" font-family="Liberation Sans" font-style="normal" font-weight="normal" font-size="100" fill="#222222" stroke="#fff" stroke-width="0.9">5</text>
<text transform="matrix(0.23333 0 0 0.26970 368.52 1520.90)" font-family="Liberation Mono" font-style="normal" font-weight="normal" font-size="100" fill="#222222" stroke="#fff" stroke-width="0.9">1</text>
<text transform="matrix(0.24167 0 0 0.25070 386.48 1520.65)" font-family="Liberation Sans" font-style="normal" font-weight="normal" font-size="100" fill="#222222" stroke="#fff" stroke-width="0.9">0</text>
<text transform="matrix(0.23333 0 0 0.26970 510.92 1520.90)" font-family="Liberation Mono" font-style="normal" font-weight="normal" font-size="100" fill="#222222" stroke="#fff" stroke-width="0.9">1</text>
<text transform="matrix(0.25532 0 0 0.25429 528.63 1520.65)" font-family="Liberation Sans" font-style="normal" font-weight="normal" font-size="100" fill="#222222" stroke="#fff" stroke-width="0.9">5</text>
<text transform="matrix(0.25870 0 0 0.25429 653.31 1520.90)" font-family="Liberation Sans" font-style="normal" font-weight="normal" font-size="100" fill="#222222" stroke="#fff" stroke-width="0.9">2</text>
<text transform="matrix(0.24167 0 0 0.25070 671.28 1520.65)" font-family="Liberation Sans" font-style="normal" font-weight="normal" font-size="100" fill="#222222" stroke="#fff" stroke-width="0.9">0</text>
<text transform="matrix(0.25870 0 0 0.25429 795.71 1520.90)" font-family="Liberation Sans" font-style="normal" font-weight="normal" font-size="100" fill="#222222" stroke="#fff" stroke-width="0.9">2</text>
<text transform="matrix(0.25532 0 0 0.25429 813.43 1520.65)" font-family="Liberation Sans" font-style="normal" font-weight="normal" font-size="100" fill="#222222" stroke="#fff" stroke-width="0.9">5</text>
<text transform="matrix(0.25106 0 0 0.25070 938.45 1520.65)" font-family="Liberation Sans" font-style="normal" font-weight="normal" font-size="100" fill="#222222" stroke="#fff" stroke-width="0.9">3</text>
<text transform="matrix(0.24167 0 0 0.25070 956.08 1520.65)" font-family="Liberation Sans" font-style="normal" font-weight="normal" font-size="100" fill="#222222" stroke="#fff" stroke-width="0.9">0</text>
<text transform="matrix(0.24167 0 0 0.24507 77.23 2035.15)" font-family="Liberation Sans" font-style="normal" font-weight="normal" font-size="100" fill="#222222" stroke="#fff" stroke-width="0.9">0</text>
<text transform="matrix(0.23333 0 0 0.26364 76.77 1838.70)" font-family="Liberation Mono" font-style="normal" font-weight="normal" font-size="100" fill="#222222" stroke="#fff" stroke-width="0.9">1</text>
<text transform="matrix(0.25870 0 0 0.24857 76.76 1642.90)" font-family="Liberation Sans" font-style="normal" font-weight="normal" font-size="100" fill="#222222" stroke="#fff" stroke-width="0.9">2</text>
<text transform="matrix(0.24167 0 0 0.23944 92.93 2059.96)" font-family="Liberation Sans" font-style="normal" font-weight="normal" font-size="100" fill="#222222" stroke="#fff" stroke-width="0.9">0</text>
<text transform="matrix(0.23333 0 0 0.25758 234.87 2060.20)" font-family="Liberation Mono" font-style="normal" font-weight="normal" font-size="100" fill="#222222" stroke="#fff" stroke-width="0.9">1</text>
<text transform="matrix(0.25870 0 0 0.24286 377.26 2060.20)" font-family="Liberation Sans" font-style="normal" font-weight="normal" font-size="100" fill="#222222" stroke="#fff" stroke-width="0.9">2</text>
<text transform="matrix(0.25106 0 0 0.23944 520.00 2059.96)" font-family="Liberation Sans" font-style="normal" font-weight="normal" font-size="100" fill="#222222" stroke="#fff" stroke-width="0.9">3</text>
<text transform="matrix(0.24314 0 0 0.24286 662.61 2060.20)" font-family="Liberation Sans" font-style="normal" font-weight="normal" font-size="100" fill="#222222" stroke="#fff" stroke-width="0.9">4</text>
<text transform="matrix(0.25532 0 0 0.24286 804.68 2059.96)" font-family="Liberation Sans" font-style="normal" font-weight="normal" font-size="100" fill="#222222" stroke="#fff" stroke-width="0.9">5</text>
<text transform="matrix(0.25652 0 0 0.23944 946.92 2059.96)" font-family="Liberation Sans" font-style="normal" font-weight="normal" font-size="100" fill="#222222" stroke="#fff" stroke-width="0.9">6</text>
<text transform="matrix(0.36222 0 0 0.32609 505.36 480.80)" font-family="Liberation Serif" font-style="italic" font-weight="normal" font-size="100" fill="#111" >x</text>
<text transform="matrix(0.23611 0 0 0.25455 522.04 464.55)" font-family="Liberation Serif" font-style="italic" font-weight="normal" font-size="100" fill="#111" >N</text>
<text transform="matrix(0.27742 0 0 0.26567 521.19 496.53)" font-family="Liberation Serif" font-style="italic" font-weight="normal" font-size="100" fill="#111" >15</text>
<text transform="matrix(0.31228 0 0 0.29565 510.69 1023.80) skewX(-14)" font-family="Liberation Serif" font-style="normal" font-weight="normal" font-size="100" fill="#111" ><tspan>x</tspan></text>
<text transform="matrix(0.21806 0 0 0.21212 526.52 1007.49)" font-family="Liberation Serif" font-style="italic" font-weight="normal" font-size="100" fill="#111" >N</text>
<text transform="matrix(0.20196 0 0 0.22836 527.79 1039.10)" font-family="Liberation Mono" font-style="italic" font-weight="normal" font-size="100" fill="#111" >4</text>
<text transform="matrix(0.30877 0 0 0.29348 506.89 1568.10) skewX(-14)" font-family="Liberation Serif" font-style="normal" font-weight="normal" font-size="100" fill="#111" ><tspan>x</tspan></text>
<text transform="matrix(0.21944 0 0 0.21970 521.32 1552.48)" font-family="Liberation Serif" font-style="italic" font-weight="normal" font-size="100" fill="#111" >N</text>
<text transform="matrix(0.20208 0 0 0.23939 521.99 1583.70)" font-family="Liberation Mono" font-style="italic" font-weight="normal" font-size="100" fill="#111" >1</text>
<text transform="matrix(0.23273 0 0 0.23582 536.53 1583.70)" font-family="Liberation Mono" font-style="italic" font-weight="normal" font-size="100" fill="#111" >2</text>
<text transform="matrix(0.31404 0 0 0.28913 505.69 2108.10) skewX(-14)" font-family="Liberation Serif" font-style="normal" font-weight="normal" font-size="100" fill="#111" ><tspan>x</tspan></text>
<text transform="matrix(0.21944 0 0 0.22121 521.32 2092.48)" font-family="Liberation Serif" font-style="italic" font-weight="normal" font-size="100" fill="#111" >N</text>
<text transform="matrix(0.20208 0 0 0.23939 521.99 2123.80)" font-family="Liberation Mono" font-style="italic" font-weight="normal" font-size="100" fill="#111" >1</text>
<text transform="matrix(0.21887 0 0 0.23235 537.52 2123.57)" font-family="Liberation Mono" font-style="italic" font-weight="normal" font-size="100" fill="#111" >8</text>
<g transform="rotate(-90)"><text transform="matrix(0.27079 0 0 0.31515 -237.03 31.58)" font-family="Liberation Serif" font-style="italic" font-weight="normal" font-size="100" fill="#111" >M</text></g>
<g transform="rotate(-90)"><text transform="matrix(0.25758 0 0 0.25758 -212.52 15.54)" font-family="Liberation Serif" font-style="italic" font-weight="normal" font-size="100" fill="#111" >I</text></g>
<g transform="rotate(-90)"><text transform="matrix(0.22275 0 0 0.25000 -212.80 47.50)" font-family="Liberation Serif" font-style="italic" font-weight="normal" font-size="100" fill="#111" >PGU</text></g>
<g transform="rotate(-90)"><text transform="matrix(0.25056 0 0 0.26818 -782.65 48.53)" font-family="Liberation Serif" font-style="italic" font-weight="normal" font-size="100" fill="#222222" >M</text></g>
<g transform="rotate(-90)"><text transform="matrix(0.21538 0 0 0.22836 -755.88 34.17)" font-family="Liberation Serif" font-style="italic" font-weight="normal" font-size="100" fill="#222222" >G</text></g>
<g transform="rotate(-90)"><text transform="matrix(0.21422 0 0 0.22239 -755.39 64.68)" font-family="Liberation Serif" font-style="italic" font-weight="normal" font-size="100" fill="#222222" >HGP</text></g>
<g transform="rotate(-90)"><text transform="matrix(0.24719 0 0 0.27424 -1323.55 45.63)" font-family="Liberation Serif" font-style="italic" font-weight="normal" font-size="100" fill="#222222" >M</text></g>
<g transform="rotate(-90)"><text transform="matrix(0.21364 0 0 0.21364 -1293.65 29.79)" font-family="Liberation Serif" font-style="italic" font-weight="normal" font-size="100" fill="#222222" >I</text></g>
<g transform="rotate(-90)"><text transform="matrix(0.29841 0 0 0.25526 -1289.99 48.75)" font-family="Liberation Serif" font-style="normal" font-weight="normal" font-size="100" fill="#222222" >∞</text></g>
<g transform="rotate(-90)"><text transform="matrix(0.21961 0 0 0.21493 -1297.58 61.19)" font-family="Liberation Serif" font-style="italic" font-weight="normal" font-size="100" fill="#222222" >HGP</text></g>
<g transform="rotate(-90)"><text transform="matrix(0.25056 0 0 0.26970 -1867.25 48.53)" font-family="Liberation Serif" font-style="italic" font-weight="normal" font-size="100" fill="#222222" >M</text></g>
<g transform="rotate(-90)"><text transform="matrix(0.27049 0 0 0.26970 -1840.83 33.73)" font-family="Liberation Serif" font-style="italic" font-weight="normal" font-size="100" fill="#222222" >Γ</text></g>
<g transform="rotate(-90)"><text transform="matrix(0.20222 0 0 0.18824 -1823.81 48.82)" font-family="Liberation Serif" font-style="italic" font-weight="normal" font-size="100" fill="#222222" >0</text></g>
<g transform="rotate(-90)"><text transform="matrix(0.21863 0 0 0.22239 -1840.48 64.68)" font-family="Liberation Serif" font-style="italic" font-weight="normal" font-size="100" fill="#222222" >HGP</text></g>
<text transform="matrix(0.30530 0 0 0.30462 570.08 228.90)" font-family="Liberation Serif" font-style="normal" font-weight="normal" font-size="100" fill="#000" >DeFronzo <tspan font-style="italic">et al.</tspan>, 1985</text>
<text transform="matrix(0.30933 0 0 0.30462 570.07 263.10)" font-family="Liberation Serif" font-style="normal" font-weight="normal" font-size="100" fill="#000" >Kelley and Mandarino., 1990</text>
<text transform="matrix(0.31512 0 0 0.30462 570.05 297.90)" font-family="Liberation Serif" font-style="normal" font-weight="normal" font-size="100" fill="#000" >Kalant <tspan font-style="italic">et al.</tspan>, 1979</text>
<text transform="matrix(0.31124 0 0 0.30462 569.76 332.10)" font-family="Liberation Serif" font-style="normal" font-weight="normal" font-size="100" fill="#000" >Capaldo <tspan font-style="italic">et al.</tspan>, 1986</text>
<text transform="matrix(0.31018 0 0 0.30462 570.69 366.10)" font-family="Liberation Serif" font-style="normal" font-weight="normal" font-size="100" fill="#000" >Vaag <tspan font-style="italic">et al.</tspan>, 1992</text>
<text transform="matrix(0.30681 0 0 0.30462 667.18 593.10)" font-family="Liberation Serif" font-style="normal" font-weight="normal" font-size="100" fill="#000" >Hawkins <tspan font-style="italic">et al.</tspan>, 2002</text>
<text transform="matrix(0.30543 0 0 0.30462 667.18 627.90)" font-family="Liberation Serif" font-style="normal" font-weight="normal" font-size="100" fill="#000" >Nielsen <tspan font-style="italic">et al.</tspan>, 1998</text>
<text transform="matrix(0.31741 0 0 0.30462 667.15 662.50)" font-family="Liberation Serif" font-style="normal" font-weight="normal" font-size="100" fill="#000" >Del Prato <tspan font-style="italic">et al.</tspan>, 1997</text>
<text transform="matrix(0.30653 0 0 0.30462 667.18 697.40)" font-family="Liberation Serif" font-style="normal" font-weight="normal" font-size="100" fill="#000" >Mevorach <tspan font-style="italic">et al.</tspan>, 1998</text>
<text transform="matrix(0.30751 0 0 0.30462 650.28 1140.00)" font-family="Liberation Serif" font-style="normal" font-weight="normal" font-size="100" fill="#000" >DeFronzo <tspan font-style="italic">et al.</tspan>, 1982</text>
<text transform="matrix(0.30680 0 0 0.30462 650.28 1175.10)" font-family="Liberation Serif" font-style="normal" font-weight="normal" font-size="100" fill="#000" >DeFronzo <tspan font-style="italic">et al.</tspan>, 1985</text>
<text transform="matrix(0.31274 0 0 0.30462 649.95 1209.90)" font-family="Liberation Serif" font-style="normal" font-weight="normal" font-size="100" fill="#000" >Groop <tspan font-style="italic">et al.</tspan>, 1989</text>
<text transform="matrix(0.31215 0 0 0.30462 649.95 1244.40)" font-family="Liberation Serif" font-style="normal" font-weight="normal" font-size="100" fill="#000" >Campbell <tspan font-style="italic">et al.</tspan>, 1989</text>
<text transform="matrix(0.31602 0 0 0.30462 648.99 1279.50)" font-family="Liberation Serif" font-style="normal" font-weight="normal" font-size="100" fill="#000" >Staehr <tspan font-style="italic">et al.</tspan>, 2001</text>
<text transform="matrix(0.30829 0 0 0.30462 650.28 1314.00)" font-family="Liberation Serif" font-style="normal" font-weight="normal" font-size="100" fill="#000" >Revers <tspan font-style="italic">et al.</tspan>, 1984</text>
<text transform="matrix(0.31220 0 0 0.30462 650.26 1348.40)" font-family="Liberation Serif" font-style="normal" font-weight="normal" font-size="100" fill="#000" >Baron <tspan font-style="italic">et al.</tspan>, 1987</text>
<text transform="matrix(0.31206 0 0 0.30462 660.46 1948.40)" font-family="Liberation Serif" font-style="normal" font-weight="normal" font-size="100" fill="#000" >Baron <tspan font-style="italic">et al.</tspan>, 1987</text>
<text transform="matrix(0.31504 0 0 0.30462 660.45 1983.20)" font-family="Liberation Serif" font-style="normal" font-weight="normal" font-size="100" fill="#000" >Matsuda <tspan font-style="italic">et al.</tspan>, 2002</text>
</g>
</svg>
</body></html>
